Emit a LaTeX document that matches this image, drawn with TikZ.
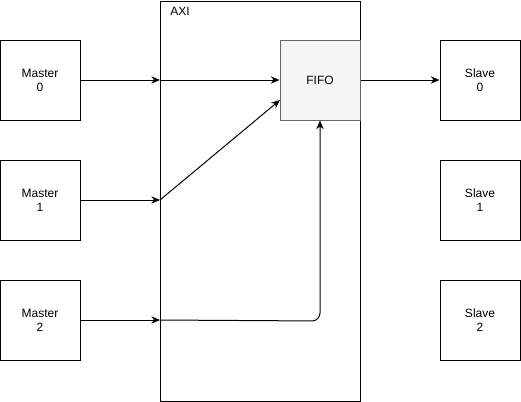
\documentclass[tikz,border=0pt]{standalone}
\usepackage{fontspec}
\setmainfont{Liberation Sans}
\usetikzlibrary{arrows.meta}
\begin{document}
\begin{tikzpicture}[x=0.75pt,y=-0.75pt,
  font=\fontsize{9}{10.5}\selectfont,
  box/.style={draw=black,line width=0.75pt,minimum width=60pt,minimum height=60pt,inner sep=0pt,align=center,fill=white},
  fifobox/.style={box,draw=black!60,fill=black!4},
  link/.style={draw=black,line width=0.75pt,-{Stealth[length=6.5pt,width=5.5pt,inset=2pt]}}]
\useasboundingbox (0,0) rectangle (521,401);
% AXI interconnect frame
\node[draw=black,line width=0.75pt,minimum width=150pt,minimum height=300pt,inner sep=0pt,anchor=north west] (axi) at (160,0.5) {};
\node[anchor=west,inner sep=0pt] (axilabel) at (170,11) {AXI};
% masters
\node[box] (m0) at (40,80) {Master\\0};
\node[box] (m1) at (40,200) {Master\\1};
\node[box] (m2) at (40,320) {Master\\2};
% slaves
\node[box] (s0) at (480,80) {Slave\\0};
\node[box] (s1) at (480,200) {Slave\\1};
\node[box] (s2) at (480,320) {Slave\\2};
% FIFO
\node[fifobox] (fifo) at (320,80) {FIFO};
% ports on the AXI frame
\coordinate (p0) at (160,80);
\coordinate (p1) at (160,200);
\coordinate (p2) at (160,320);
\coordinate (f1) at (280,100);
% connectors
\draw[link] (m0.east) -- (p0);
\draw[link] (m1.east) -- (p1);
\draw[link] (m2.east) -- (p2);
\draw[link] (p0) -- (fifo.west);
\draw[link] (p1) -- (f1);
\draw[link,rounded corners=6pt] (p2) -- (320,321) -- (fifo.south);
\draw[link] (fifo.east) -- (s0.west);
\end{tikzpicture}
\end{document}
